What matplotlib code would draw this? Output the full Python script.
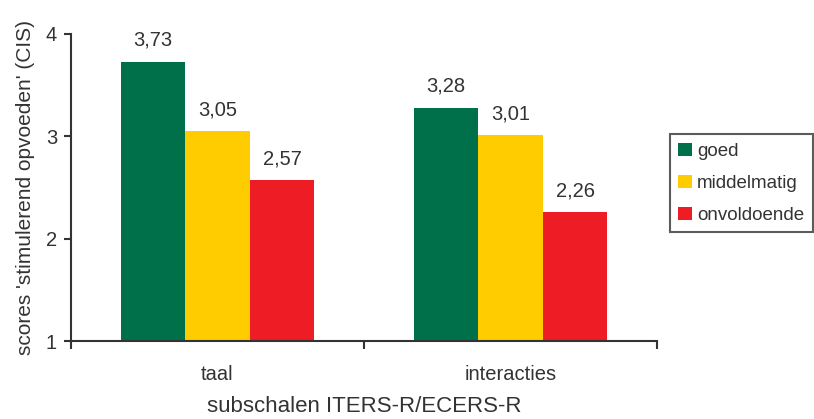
import matplotlib
matplotlib.use('Agg')
from matplotlib import pyplot as plt

plt.rcParams['font.family'] = ['Liberation Sans', 'DejaVu Sans']

categories = ['taal', 'interacties']
series = ['goed', 'middelmatig', 'onvoldoende']
goed = [3.73, 3.28]
middelmatig = [3.05, 3.01]
onvoldoende = [2.57, 2.26]
colors = ['#00704A', '#FFCC00', '#EE1C25']
txt = '#333333'

fig = plt.figure(figsize=(8.14, 4.19), dpi=100)
ax = fig.add_axes([0.0872, 0.186, 0.72, 0.733])

w = 0.22
centers = [i + 0.5 for i in range(len(categories))]
for k, (name, vals) in enumerate(zip(series, [goed, middelmatig, onvoldoende])):
    xs = [c + (k - 1) * w for c in centers]
    ax.bar(xs, [v - 1 for v in vals], width=w, bottom=1, color=colors[k], label=name)
    for x, v in zip(xs, vals):
        ax.annotate(('%.2f' % v).replace('.', ','), (x, v), xytext=(0, 8.5),
                    textcoords='offset points', ha='center', va='bottom',
                    fontsize=14.5, color=txt)

ax.set_xlim(0, 2)
ax.set_ylim(1, 4)
ax.set_yticks([1, 2, 3, 4])
ax.set_xticks([0, 1, 2])
ax.set_xticklabels(['', '', ''])
ax.set_xticks(centers, minor=True)
ax.set_xticklabels(categories, minor=True)
ax.tick_params(axis='x', which='minor', length=0, pad=17, labelsize=14.5, labelcolor=txt)
ax.tick_params(axis='x', which='major', length=6, width=1.5, color=txt)
ax.tick_params(axis='y', length=5, width=1.5, pad=5, labelsize=14.5, labelcolor=txt, color=txt)
for s in ['top', 'right']:
    ax.spines[s].set_visible(False)
for s in ['left', 'bottom']:
    ax.spines[s].set_linewidth(1.5)
    ax.spines[s].set_color(txt)

ax.set_xlabel('subschalen ITERS-R/ECERS-R', fontsize=16, color=txt, labelpad=9)
ax.set_ylabel("scores 'stimulerend opvoeden' (CIS)", fontsize=15, color=txt, labelpad=8)

leg = ax.legend(loc='upper left', bbox_to_anchor=(0.823, 0.68), bbox_transform=fig.transFigure,
                fontsize=13.5, frameon=True, fancybox=False, handlelength=0.75, handleheight=0.75,
                handletextpad=0.25, borderpad=0.45, labelspacing=0.78, borderaxespad=0,
                edgecolor=txt)
leg.get_frame().set_linewidth(1.5)
for t in leg.get_texts():
    t.set_color(txt)

fig.savefig('out.png', dpi=100)
